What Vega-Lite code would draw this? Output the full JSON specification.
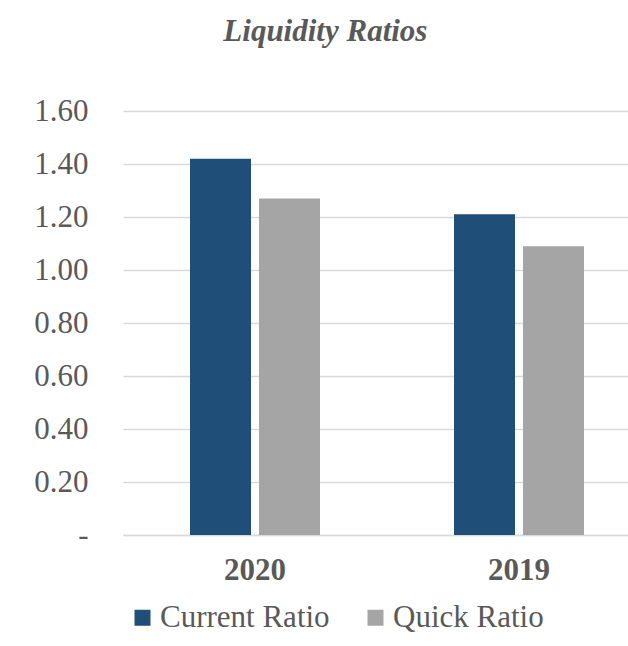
{
  "$schema": "https://vega.github.io/schema/vega-lite/v6.json",
  "width": 505,
  "height": 424,
  "autosize": {"type": "none"},
  "padding": {"left": 123, "top": 111, "right": 0, "bottom": 111},
  "background": "white",
  "title": {
    "text": "Liquidity Ratios",
    "font": "Liberation Serif, Times New Roman, serif",
    "fontSize": 31,
    "fontStyle": "italic",
    "fontWeight": "bold",
    "color": "#595959",
    "anchor": "middle",
    "frame": "bounds",
    "offset": 47,
    "dx": -17
  },
  "data": {
    "values": [
      {"year": "2020", "series": "Current Ratio", "value": 1.42},
      {"year": "2020", "series": "Quick Ratio", "value": 1.27},
      {"year": "2019", "series": "Current Ratio", "value": 1.21},
      {"year": "2019", "series": "Quick Ratio", "value": 1.09}
    ]
  },
  "mark": {"type": "bar"},
  "encoding": {
    "x": {
      "field": "year",
      "type": "nominal",
      "sort": ["2020", "2019"],
      "scale": {"range": [0, 528], "paddingInner": 0, "paddingOuter": 0},
      "axis": {
        "title": null,
        "labelAngle": 0,
        "labelFont": "Liberation Serif, Times New Roman, serif",
        "labelFontSize": 31,
        "labelFontWeight": "bold",
        "labelColor": "#595959",
        "labelPadding": 20,
        "ticks": false,
        "domain": true,
        "domainColor": "#D9D9D9",
        "domainWidth": 1.5,
        "grid": false
      }
    },
    "xOffset": {
      "field": "series",
      "type": "nominal",
      "scale": {"paddingInner": 0.116, "paddingOuter": 0.971}
    },
    "y": {
      "field": "value",
      "type": "quantitative",
      "scale": {"domain": [0, 1.6], "nice": false},
      "axis": {
        "title": null,
        "values": [0, 0.2, 0.4, 0.6, 0.8, 1.0, 1.2, 1.4, 1.6],
        "labelExpr": "datum.value == 0 ? '-\u00a0\u00a0\u00a0' : format(datum.value, '.2f')",
        "labelFont": "Liberation Serif, Times New Roman, serif",
        "labelFontSize": 31,
        "labelColor": "#595959",
        "labelPadding": 35,
        "ticks": false,
        "domain": false,
        "grid": true,
        "gridColor": "#D9D9D9",
        "gridWidth": 1.5
      }
    },
    "color": {
      "field": "series",
      "type": "nominal",
      "scale": {"domain": ["Current Ratio", "Quick Ratio"], "range": ["#1F4E79", "#A5A5A5"]},
      "legend": {
        "title": null,
        "orient": "none",
        "direction": "horizontal",
        "legendX": 4,
        "legendY": 491,
        "symbolType": "square",
        "symbolSize": 256,
        "symbolStrokeWidth": 0,
        "symbolOpacity": 1,
        "labelFont": "Liberation Serif, Times New Roman, serif",
        "labelFontSize": 31,
        "labelColor": "#595959",
        "labelOffset": 2,
        "labelLimit": 400,
        "columnPadding": 30
      }
    }
  },
  "config": {"view": {"stroke": null}}
}
